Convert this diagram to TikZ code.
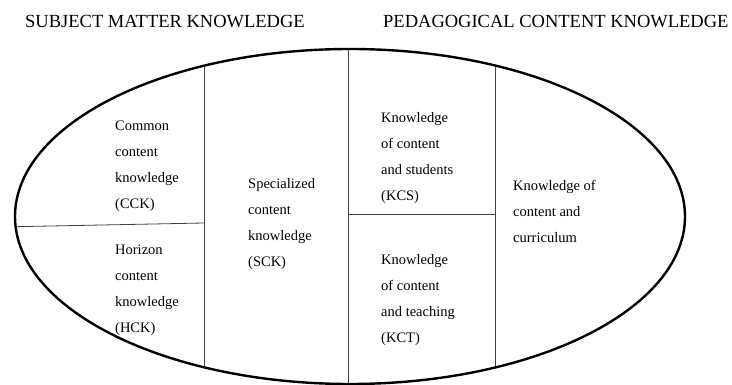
\documentclass[tikz,border=0pt]{standalone}
\usepackage{fontspec}
\setmainfont{Liberation Serif}
\usetikzlibrary{positioning}

\begin{document}
\begin{tikzpicture}[x=1pt, y=-1pt,
  heading/.style={anchor=west, inner sep=0pt, font=\fontsize{18.5}{20}\selectfont},
  cell/.style={anchor=west, align=left, inner sep=0pt, font=\fontsize{14.5}{26}\selectfont},
  divider/.style={line width=0.8pt, black!75}]
\path[use as bounding box] (0,0) rectangle (732,385);
\node[heading] (SMK) at (25,21.5) {SUBJECT MATTER KNOWLEDGE};
\node[heading] (PCK) at (383,21.5) {PEDAGOGICAL CONTENT KNOWLEDGE};
% dividers inside the oval
\begin{scope}
\clip (350,216.5) ellipse [x radius=335, y radius=167.5];
\draw[divider] (204,0) -- (204,400);
\draw[divider] (348,0) -- (348,400);
\draw[divider] (495,0) -- (495,400);
\draw[divider] (0,227) -- (204,223);
\draw[divider] (348,214) -- (495,214);
\end{scope}
\draw[line width=2.4pt] (350,216.5) ellipse [x radius=335, y radius=167.5];
% domains
\node[cell] (CCK) at (115,166.5) {Common\\content\\knowledge\\(CCK)};
\node[cell] (HCK) at (115,290) {Horizon\\content\\knowledge\\(HCK)};
\node[cell] (SCK) at (248,224.5) {Specialized\\content\\knowledge\\(SCK)};
\node[cell] (KCS) at (381,158.5) {Knowledge\\of content\\and students\\(KCS)};
\node[cell] (KCT) at (381,300) {Knowledge\\of content\\and teaching\\(KCT)};
\node[cell] (KCC) at (513,211) {Knowledge of\\content and\\curriculum};
\end{tikzpicture}
\end{document}
